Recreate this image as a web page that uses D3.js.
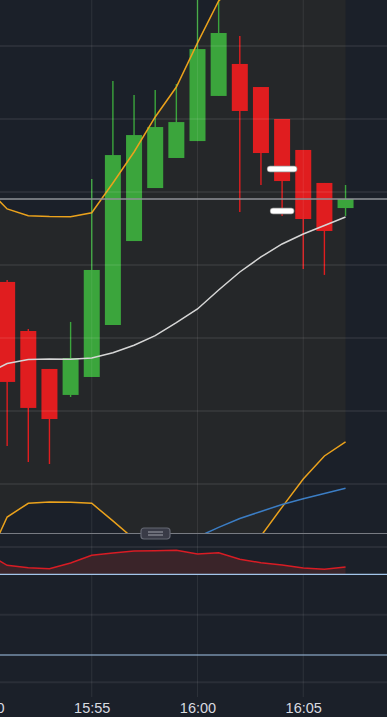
<!DOCTYPE html>
<html>
<head>
<meta charset="utf-8">
<script src="https://cdnjs.cloudflare.com/ajax/libs/d3/7.8.5/d3.min.js"></script>
<style>
    html, body { margin: 0; padding: 0; background: #1b2029; overflow: hidden; }
    svg { display: block; }
</style>
</head>
<body>
<svg id="chart" width="387" height="717"></svg>
<script>
// one-minute candles
var times  = ['15:50', '15:51', '15:52', '15:53', '15:54', '15:55', '15:56', '15:57', '15:58', '15:59',
              '16:00', '16:01', '16:02', '16:03', '16:04', '16:05', '16:06', '16:07'];
var opens  = [96.50, 93.84, 90.48, 87.88, 86.10, 87.33, 90.89, 96.64, 100.27, 102.33,
              103.49, 106.58, 108.77, 107.19, 105.00, 102.88, 100.62, 98.90];
var highs  = [97.00, 93.97, 90.62, 87.88, 91.10, 100.89, 107.60, 106.64, 106.99, 107.40,
              113.49, 113.49, 110.68, 107.19, 105.00, 102.88, 100.62, 100.48];
var lows   = [92.50, 82.60, 81.51, 81.37, 85.96, 87.33, 90.89, 96.64, 100.27, 102.33,
              103.49, 106.58, 98.63, 100.48, 98.36, 94.73, 94.32, 98.36];
var closes = [94.00, 86.99, 85.21, 84.45, 88.63, 94.66, 102.53, 103.90, 104.45, 104.79,
              109.79, 110.89, 105.55, 102.67, 100.75, 98.15, 97.33, 99.52];

// bollinger bands
var bandUpper  = [100.31, 98.84, 98.38, 98.32, 98.31, 98.58, 100.62, 102.74, 105.14, 107.19,
                  110.21, 113.08, 114.52, 114.66, 114.45, 113.97, 113.84, 113.84];
var bandMiddle = [87.53, 88.25, 88.53, 88.56, 88.54, 88.63, 88.99, 89.50, 90.16, 91.05,
                  91.99, 93.29, 94.52, 95.55, 96.44, 97.12, 97.71, 98.29];
var bandLower  = [74.59, 77.74, 78.68, 78.77, 78.75, 78.68, 77.47, 76.23, 75.21, 74.93,
                  73.77, 73.49, 74.52, 76.44, 78.42, 80.34, 81.92, 82.88];

// second overlay line, only from 16:00
var trendLine = [null, null, null, null, null, null, null, null, null, null,
                 76.37, 77.03, 77.64, 78.12, 78.60, 78.99, 79.35, 79.71];

// oscillator panel
var rsiValues = [80.56, 74.46, 73.27, 72.78, 75.60, 79.42, 80.56, 81.55, 81.70, 81.90,
                 80.06, 80.71, 77.43, 75.75, 74.61, 73.12, 72.48, 73.62];
var rsiLevels = [70, 30];
var rsiGrid = [83.5, 50, 16.5];

var priceGrid = [80, 85, 90, 95, 100, 105, 110];
var lastPrice = 99.52;
var markerTime = '16:04';
var markerPrices = [101.58, 98.70];
var axisTicks = ['15:50', '15:55', '16:00', '16:05'];

var W = 387, H = 717;
var mainBottom = 533;
var rsiTop = 540, rsiBottom = 697;

var parseTime = d3.timeParse('%H:%M');
var data = times.map(function (t, i) {
    return {
        t: parseTime(t), open: opens[i], high: highs[i], low: lows[i], close: closes[i],
        upper: bandUpper[i], mid: bandMiddle[i], lower: bandLower[i],
        trend: trendLine[i], rsi: rsiValues[i]
    };
});

var x = d3.scaleTime()
    .domain([parseTime('15:55'), parseTime('16:05')])
    .range([91.75, 303.25]);
var y = d3.scaleLinear().domain([76.644, 113.151]).range([mainBottom, 0]);
var yRsi = d3.scaleLinear().domain([30, 70]).range([655, 574.3]);

var svg = d3.select('#chart');
var defs = svg.append('defs');
defs.append('clipPath').attr('id', 'clip-main')
    .append('rect').attr('x', 0).attr('y', 0).attr('width', W).attr('height', mainBottom);
defs.append('clipPath').attr('id', 'clip-rsi')
    .append('rect').attr('x', 0).attr('y', rsiTop).attr('width', W).attr('height', rsiBottom - rsiTop);

svg.append('rect').attr('width', W).attr('height', H).attr('fill', '#1b2029');

// band fill
var main = svg.append('g').attr('clip-path', 'url(#clip-main)');
main.append('path')
    .datum(data)
    .attr('fill', '#252729')
    .attr('d', d3.area()
        .x(function (d) { return x(d.t); })
        .y0(function (d) { return y(d.lower); })
        .y1(function (d) { return y(d.upper); }));

// grid
var grid = svg.append('g');
grid.selectAll('.hgrid').data(priceGrid).enter().append('line')
    .attr('x1', 0).attr('x2', W)
    .attr('y1', function (d) { return y(d); })
    .attr('y2', function (d) { return y(d); })
    .attr('stroke', 'rgba(255,255,255,0.065)').attr('stroke-width', 2);
grid.selectAll('.rgrid').data(rsiGrid).enter().append('line')
    .attr('x1', 0).attr('x2', W)
    .attr('y1', function (d) { return yRsi(d); })
    .attr('y2', function (d) { return yRsi(d); })
    .attr('stroke', 'rgba(255,255,255,0.065)').attr('stroke-width', 2);
grid.selectAll('.vgrid').data(axisTicks.map(parseTime)).enter().append('line')
    .attr('x1', function (d) { return x(d); })
    .attr('x2', function (d) { return x(d); })
    .attr('y1', 0).attr('y2', rsiBottom)
    .attr('stroke', 'rgba(255,255,255,0.08)').attr('stroke-width', 1);

// last price line
svg.append('line')
    .attr('x1', 0).attr('x2', W)
    .attr('y1', y(lastPrice)).attr('y2', y(lastPrice))
    .attr('stroke', '#8f9297').attr('stroke-width', 1.5);

// candles
var candleWidth = 16;
var candles = main.selectAll('.candle').data(data).enter().append('g').attr('class', 'candle');
function candleColor(d) { return d.close >= d.open ? '#3ba53c' : '#e01d1f'; }
candles.append('line')
    .attr('x1', function (d) { return x(d.t); })
    .attr('x2', function (d) { return x(d.t); })
    .attr('y1', function (d) { return y(d.high); })
    .attr('y2', function (d) { return y(d.low); })
    .attr('stroke', candleColor).attr('stroke-width', 1.4);
candles.append('rect')
    .attr('x', function (d) { return x(d.t) - candleWidth / 2; })
    .attr('width', candleWidth)
    .attr('y', function (d) { return y(Math.max(d.open, d.close)); })
    .attr('height', function (d) { return Math.max(1, Math.abs(y(d.open) - y(d.close))); })
    .attr('fill', candleColor);

// band lines
function seriesLine(key) {
    return d3.line()
        .defined(function (d) { return d[key] != null; })
        .x(function (d) { return x(d.t); })
        .y(function (d) { return y(d[key]); });
}
main.append('path').datum(data).attr('fill', 'none')
    .attr('stroke', '#eba21c').attr('stroke-width', 1.5).attr('d', seriesLine('upper'));
main.append('path').datum(data).attr('fill', 'none')
    .attr('stroke', '#eba21c').attr('stroke-width', 1.5).attr('d', seriesLine('lower'));
main.append('path').datum(data).attr('fill', 'none')
    .attr('stroke', '#d6d6d6').attr('stroke-width', 1.5).attr('d', seriesLine('mid'));
main.append('path').datum(data).attr('fill', 'none')
    .attr('stroke', '#3b7dc4').attr('stroke-width', 1.5).attr('d', seriesLine('trend'));

// panel divider and handle
svg.append('line')
    .attr('x1', 0).attr('x2', W).attr('y1', mainBottom + 0.5).attr('y2', mainBottom + 0.5)
    .attr('stroke', '#787b82').attr('stroke-width', 1);
var handle = svg.append('g').attr('transform', 'translate(155.5,' + (mainBottom + 0.5) + ')');
handle.append('rect')
    .attr('x', -14.5).attr('y', -5.5).attr('width', 29).attr('height', 11).attr('rx', 3)
    .attr('fill', '#393b47').attr('stroke', '#656873').attr('stroke-width', 1.2);
handle.selectAll('.grip').data([-1.5, 1.5]).enter().append('line')
    .attr('x1', -7.5).attr('x2', 7.5)
    .attr('y1', function (d) { return d; }).attr('y2', function (d) { return d; })
    .attr('stroke', '#a0a2ab').attr('stroke-width', 1);

// markers
var markerX = x(parseTime(markerTime));
var markerHalf = [12, 9];
var markers = svg.selectAll('.marker').data(markerPrices).enter().append('g');
markers.append('line')
    .attr('x1', function (d, i) { return markerX - markerHalf[i]; })
    .attr('x2', function (d, i) { return markerX + markerHalf[i]; })
    .attr('y1', function (d) { return y(d); })
    .attr('y2', function (d) { return y(d); })
    .attr('stroke', '#9a9a9a').attr('stroke-width', 6.5).attr('stroke-linecap', 'round');
markers.append('line')
    .attr('x1', function (d, i) { return markerX - markerHalf[i]; })
    .attr('x2', function (d, i) { return markerX + markerHalf[i]; })
    .attr('y1', function (d) { return y(d); })
    .attr('y2', function (d) { return y(d); })
    .attr('stroke', '#ffffff').attr('stroke-width', 5).attr('stroke-linecap', 'round');

// oscillator
var rsiG = svg.append('g').attr('clip-path', 'url(#clip-rsi)');
rsiG.append('path').datum(data)
    .attr('fill', '#3a2429')
    .attr('d', d3.area()
        .x(function (d) { return x(d.t); })
        .y0(yRsi(rsiLevels[0]))
        .y1(function (d) { return yRsi(d.rsi); }));
rsiG.append('path').datum(data)
    .attr('fill', 'none').attr('stroke', '#d81c24').attr('stroke-width', 1.5)
    .attr('d', d3.line()
        .x(function (d) { return x(d.t); })
        .y(function (d) { return yRsi(d.rsi); }));
rsiG.selectAll('.level').data(rsiLevels).enter().append('line')
    .attr('x1', 0).attr('x2', W)
    .attr('y1', function (d) { return yRsi(d); })
    .attr('y2', function (d) { return yRsi(d); })
    .attr('stroke', '#a3c5ea').attr('stroke-width', 1.2);

// time axis
var axis = d3.axisBottom(x)
    .tickValues(axisTicks.map(parseTime))
    .tickFormat(d3.timeFormat('%H:%M'))
    .tickSize(0)
    .tickPadding(6);
var axisG = svg.append('g').attr('transform', 'translate(0,' + rsiBottom + ')').call(axis);
axisG.select('.domain').remove();
axisG.selectAll('text')
    .attr('fill', '#d9dbe0')
    .style('font-family', '"Liberation Sans", Arial, sans-serif')
    .style('font-size', '14.5px');
</script>
</body>
</html>
